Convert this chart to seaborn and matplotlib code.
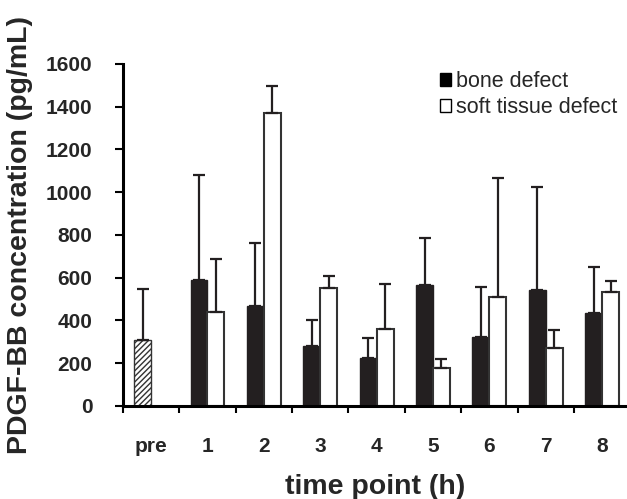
import numpy as np
import pandas as pd
import matplotlib
matplotlib.use("Agg")
import matplotlib.pyplot as plt
from matplotlib.patches import Patch
from matplotlib.container import BarContainer
from matplotlib.ticker import FixedLocator
import seaborn as sns

categories = ["pre", "1", "2", "3", "4", "5", "6", "7", "8"]
bone = [310, 589, 468, 282, 223, 566, 323, 543, 434]
bone_sd = [235, 490, 296, 120, 95, 218, 232, 483, 218]
soft = [np.nan, 440, 1369, 550, 359, 179, 508, 270, 533]
soft_sd = [np.nan, 249, 128, 58, 213, 39, 559, 84, 52]
series = ["bone defect", "soft tissue defect"]
yticks = [0, 200, 400, 600, 800, 1000, 1200, 1400, 1600]

df = pd.DataFrame({
    "time": categories * 2,
    "group": [series[0]] * len(categories) + [series[1]] * len(categories),
    "value": bone + soft,
})
df = df.dropna()

sns.set_style("white")
plt.rcParams["font.family"] = ["Liberation Sans", "DejaVu Sans"]
plt.rcParams["hatch.color"] = "#333333"
plt.rcParams["hatch.linewidth"] = 1.0

dark = "#231f20"
fig = plt.figure(figsize=(6.27, 4.99), dpi=100)
ax = fig.add_axes([0.196, 0.1864, 0.804, 0.6854])

sns.barplot(data=df, x="time", y="value", hue="group", order=categories,
            hue_order=series, palette=[dark, "white"], width=0.6,
            errorbar=None, ax=ax, legend=False, saturation=1)

sds = [bone_sd, soft_sd]
bar_conts = [c for c in ax.containers if isinstance(c, BarContainer)]
for ci, cont in enumerate(bar_conts):
    for bar in list(cont):
        w = bar.get_width()
        xc = bar.get_x() + w / 2
        idx = int(round(xc))
        h = bar.get_height()
        if not np.isfinite(h):
            continue
        bar.set_edgecolor(dark if ci == 0 else "#333333")
        bar.set_linewidth(1.0 if ci == 0 else 1.5)
        if ci == 0 and idx == 0:
            bar.set_facecolor("white")
            bar.set_hatch("//////")
            bar.set_edgecolor("#333333")
        ax.errorbar([xc], [h], yerr=[[0], [sds[ci][idx]]], fmt="none",
                    ecolor=dark, elinewidth=1.6, capsize=4, capthick=1.6, zorder=5)

ax.set_xlim(-0.5, 8.44)
ax.set_ylim(0, 1600)
ax.set_yticks(yticks)
ax.set_yticklabels([str(t) for t in yticks])
ax.set_xticks(range(len(categories)))
ax.set_xticklabels(categories)
ax.xaxis.set_minor_locator(FixedLocator(np.arange(-0.5, 9.0, 1.0)))
ax.tick_params(axis="x", which="major", length=0, pad=22, labelsize=15)
ax.tick_params(axis="x", which="minor", length=5, width=1.5, direction="out", color="black", bottom=True)
ax.tick_params(axis="y", which="major", length=6, width=1.5, direction="out", color="black", left=True, pad=16, labelsize=15)
for lab in ax.get_xticklabels() + ax.get_yticklabels():
    lab.set_fontweight("bold")

for s in ["top", "right"]:
    ax.spines[s].set_visible(False)
for s in ["left", "bottom"]:
    ax.spines[s].set_color("black")
    ax.spines[s].set_linewidth(2.2)

ax.set_xlabel("time point (h)", fontsize=20.5, fontweight="bold", labelpad=13)
ax.set_ylabel("PDGF-BB concentration (pg/mL)", fontsize=20.5, fontweight="bold", labelpad=9)

handles = [Patch(facecolor="black", edgecolor="black", linewidth=1),
           Patch(facecolor="white", edgecolor="black", linewidth=1)]
ax.legend(handles, series, loc="upper left", bbox_to_anchor=(0.611, 1.005),
          frameon=False, fontsize=15.5, handlelength=0.55, handleheight=0.55,
          handletextpad=0.2, labelspacing=0.26, borderaxespad=0, borderpad=0.4)

fig.savefig("out.png", dpi=100)
